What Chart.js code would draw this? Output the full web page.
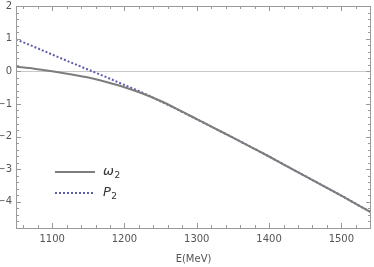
<!DOCTYPE html>
<html>
<head>
<meta charset="utf-8">
<script src="https://cdn.jsdelivr.net/npm/chart.js@4.4.1/dist/chart.umd.min.js"></script>
<style>
  html, body { margin: 0; padding: 0; background: #fff; }
  #wrap { width: 374px; height: 267px; }
</style>
</head>
<body>
<div id="wrap"><canvas id="chart" width="374" height="267"></canvas></div>
<script>
// energy grid (MeV)
const energy = [1050, 1075, 1100, 1125, 1150, 1175, 1200, 1225, 1250, 1275, 1300, 1325, 1350, 1375, 1400, 1425, 1450, 1475, 1500, 1525, 1541];
// omega_2 (solid gray)
const omega2 = [0.14, 0.08, 0.0, -0.09, -0.19, -0.33, -0.49, -0.68, -0.91, -1.18, -1.465, -1.75, -2.03, -2.32, -2.61, -2.91, -3.21, -3.51, -3.81, -4.12, -4.32];
// P_2 (dotted blue)
const p2 = [0.98, 0.75, 0.515, 0.28, 0.05, -0.18, -0.42, -0.655, -0.92, -1.19, -1.47, -1.75, -2.03, -2.32, -2.61, -2.91, -3.21, -3.51, -3.81, -4.12, -4.32];

const xTicks = [1100, 1200, 1300, 1400, 1500];
const yTicks = [-4, -3, -2, -1, 0, 1, 2];
const xMinor = 20;
const yMinor = 0.2;
const legendBase = ['ω', 'P'];
const legendSub = ['2', '2'];

const GRAY = '#7d7d7d';
const BLUE = '#5c5cac';
const FRAME = '#9a9a9a';

// frame with inward ticks + zero line + inset legend
const framePlugin = {
    id: 'frame',
    beforeDatasetsDraw(chart) {
        const { ctx, chartArea: a, scales } = chart;
        const y0 = scales.y.getPixelForValue(0);
        ctx.save();
        ctx.strokeStyle = '#c8c8c8';
        ctx.lineWidth = 1;
        ctx.beginPath();
        ctx.moveTo(a.left, Math.round(y0) + 0.5);
        ctx.lineTo(a.right, Math.round(y0) + 0.5);
        ctx.stroke();
        ctx.restore();
    },
    afterDatasetsDraw(chart) {
        const { ctx, chartArea: a, scales } = chart;
        const xs = scales.x, ys = scales.y;
        ctx.save();
        ctx.strokeStyle = FRAME;
        ctx.lineWidth = 1;
        ctx.strokeRect(a.left + 0.5, a.top + 0.5, a.right - a.left - 1, a.bottom - a.top);
        ctx.beginPath();
        // x ticks
        for (let v = Math.ceil(xs.min / xMinor) * xMinor; v <= xs.max; v += xMinor) {
            const px = Math.round(xs.getPixelForValue(v)) + 0.5;
            const len = xTicks.includes(v) ? 5 : 3;
            ctx.moveTo(px, a.bottom); ctx.lineTo(px, a.bottom - len);
            ctx.moveTo(px, a.top); ctx.lineTo(px, a.top + len);
        }
        // y ticks
        for (let i = Math.ceil(ys.min / yMinor); i * yMinor <= ys.max + 1e-9; i++) {
            const v = +(i * yMinor).toFixed(2);
            const py = Math.round(ys.getPixelForValue(v)) + 0.5;
            const len = Number.isInteger(v) ? 5 : 3;
            ctx.moveTo(a.left, py); ctx.lineTo(a.left + len, py);
            ctx.moveTo(a.right, py); ctx.lineTo(a.right - len, py);
        }
        ctx.stroke();

        // legend
        const lx = a.left + 39, ly = a.top + 166;
        chart.data.datasets.forEach((ds, i) => {
            const y = ly + i * 21;
            ctx.strokeStyle = ds.borderColor;
            ctx.lineWidth = ds.borderWidth;
            ctx.setLineDash(ds.borderDash || []);
            ctx.beginPath();
            ctx.moveTo(lx, y); ctx.lineTo(lx + 40, y);
            ctx.stroke();
            ctx.setLineDash([]);
            ctx.fillStyle = '#333';
            ctx.textBaseline = 'middle';
            ctx.font = 'italic 13px "DejaVu Sans", sans-serif';
            ctx.fillText(legendBase[i], lx + 48, y);
            const w = ctx.measureText(legendBase[i]).width;
            ctx.font = '9px "DejaVu Sans", sans-serif';
            ctx.fillText(legendSub[i], lx + 48 + w + 0.5, y + 4);
        });
        ctx.restore();
    }
};

new Chart(document.getElementById('chart'), {
    type: 'line',
    data: {
        labels: energy,
        datasets: [{
            label: 'ω2',
            data: energy.map((e, i) => ({ x: e, y: omega2[i] })),
            borderColor: GRAY,
            borderWidth: 2,
            pointRadius: 0,
            cubicInterpolationMode: 'monotone'
        }, {
            label: 'P2',
            data: energy.map((e, i) => ({ x: e, y: p2[i] })),
            borderColor: BLUE,
            borderWidth: 2,
            borderDash: [2, 2],
            pointRadius: 0,
            cubicInterpolationMode: 'monotone'
        }]
    },
    options: {
        responsive: false,
        animation: false,
        layout: { padding: { top: 6, right: 3, left: 0, bottom: 0 } },
        plugins: { legend: { display: false }, tooltip: { enabled: false } },
        scales: {
            x: {
                type: 'linear',
                min: 1050,
                max: 1541,
                afterBuildTicks: s => { s.ticks = xTicks.map(v => ({ value: v })); },
                afterFit: s => { s.height = 39; s.paddingLeft = 0; s.paddingRight = 0; },
                grid: { display: false, drawTicks: false },
                border: { display: false },
                ticks: {
                    color: '#555',
                    font: { size: 10, family: '"DejaVu Sans", sans-serif' },
                    padding: 5,
                    maxRotation: 0,
                    callback: v => String(v)
                },
                title: {
                    display: true,
                    text: 'E(MeV)',
                    color: '#555',
                    font: { size: 10, family: '"DejaVu Sans", sans-serif' },
                    padding: { top: 4, bottom: 2 }
                }
            },
            y: {
                min: -4.8,
                max: 2,
                afterBuildTicks: s => { s.ticks = yTicks.map(v => ({ value: v })); },
                afterFit: s => { s.width = 16; s.paddingTop = 0; s.paddingBottom = 0; },
                grid: { display: false, drawTicks: false },
                border: { display: false },
                ticks: {
                    color: '#555',
                    font: { size: 10, family: '"DejaVu Sans", sans-serif' },
                    padding: 4,
                    callback: v => String(v).replace('-', '\u2212')
                }
            }
        }
    },
    plugins: [framePlugin]
});
</script>
</body>
</html>
